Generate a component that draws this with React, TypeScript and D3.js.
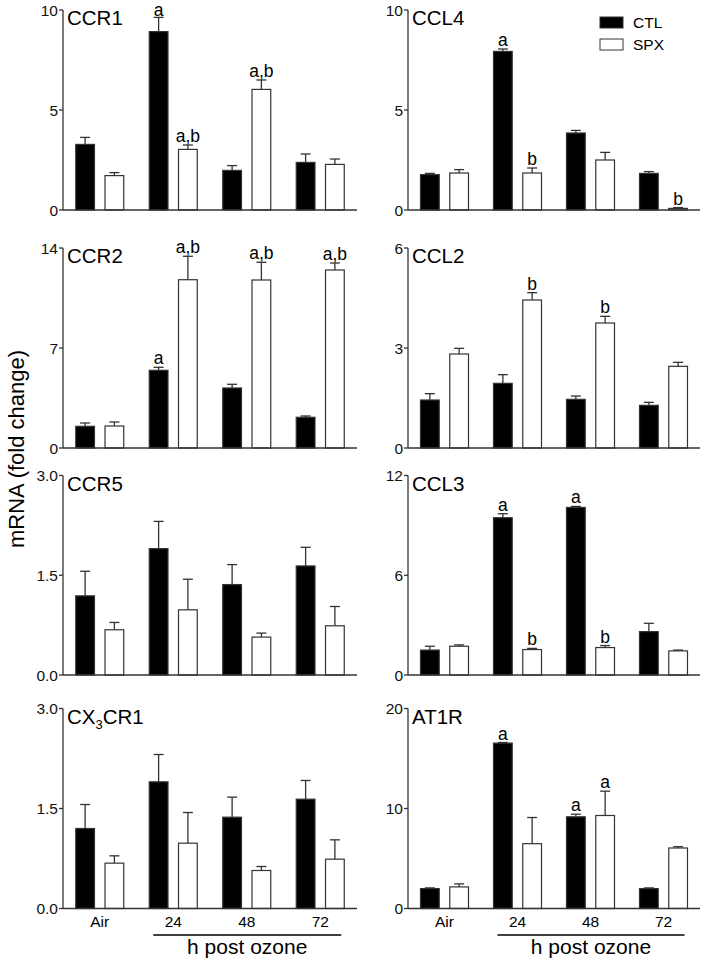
import React from "react";
import * as d3 from "d3";

// ---------- DATA ----------
const groups = ["Air", "24", "48", "72"];
const series = ["CTL", "SPX"];

const ccr1CTL = [3.28, 8.92, 1.98, 2.38];
const ccr1CTLErr = [0.35, 0.71, 0.24, 0.42];
const ccr1SPX = [1.72, 3.03, 6.03, 2.28];
const ccr1SPXErr = [0.15, 0.22, 0.47, 0.27];
const ccr1CTLSig = ["", "a", "", ""];
const ccr1SPXSig = ["", "a,b", "a,b", ""];

const ccl4CTL = [1.77, 7.93, 3.85, 1.83];
const ccl4CTLErr = [0.06, 0.12, 0.13, 0.09];
const ccl4SPX = [1.85, 1.85, 2.5, 0.08];
const ccl4SPXErr = [0.17, 0.25, 0.38, 0.04];
const ccl4CTLSig = ["", "a", "", ""];
const ccl4SPXSig = ["", "b", "", "b"];

const ccr2CTL = [1.52, 5.44, 4.2, 2.15];
const ccr2CTLErr = [0.23, 0.21, 0.26, 0.09];
const ccr2SPX = [1.54, 11.78, 11.76, 12.46];
const ccr2SPXErr = [0.28, 1.64, 1.24, 0.49];
const ccr2CTLSig = ["", "a", "", ""];
const ccr2SPXSig = ["", "a,b", "a,b", "a,b"];

const ccl2CTL = [1.44, 1.94, 1.46, 1.28];
const ccl2CTLErr = [0.19, 0.26, 0.1, 0.09];
const ccl2SPX = [2.82, 4.44, 3.75, 2.45];
const ccl2SPXErr = [0.17, 0.22, 0.2, 0.12];
const ccl2CTLSig = ["", "", "", ""];
const ccl2SPXSig = ["", "b", "b", ""];

const ccr5CTL = [1.19, 1.9, 1.36, 1.64];
const ccr5CTLErr = [0.37, 0.41, 0.3, 0.28];
const ccr5SPX = [0.68, 0.98, 0.57, 0.74];
const ccr5SPXErr = [0.11, 0.46, 0.06, 0.29];
const ccr5CTLSig = ["", "", "", ""];
const ccr5SPXSig = ["", "", "", ""];

const ccl3CTL = [1.5, 9.46, 10.08, 2.61];
const ccl3CTLErr = [0.23, 0.24, 0.06, 0.5];
const ccl3SPX = [1.73, 1.53, 1.65, 1.45];
const ccl3SPXErr = [0.08, 0.07, 0.12, 0.05];
const ccl3CTLSig = ["", "a", "a", ""];
const ccl3SPXSig = ["", "b", "b", ""];

const cx3cr1CTL = [1.2, 1.9, 1.37, 1.64];
const cx3cr1CTLErr = [0.36, 0.41, 0.3, 0.28];
const cx3cr1SPX = [0.68, 0.98, 0.57, 0.74];
const cx3cr1SPXErr = [0.11, 0.46, 0.06, 0.29];
const cx3cr1CTLSig = ["", "", "", ""];
const cx3cr1SPXSig = ["", "", "", ""];

const at1rCTL = [1.99, 16.54, 9.17, 1.99];
const at1rCTLErr = [0.07, 0.06, 0.26, 0.07];
const at1rSPX = [2.16, 6.48, 9.3, 6.05];
const at1rSPXErr = [0.3, 2.62, 2.43, 0.13];
const at1rCTLSig = ["", "a", "a", ""];
const at1rSPXSig = ["", "", "a", ""];

const ticksCCR1 = [0, 5, 10];
const ticksCCL4 = [0, 5, 10];
const ticksCCR2 = [0, 7, 14];
const ticksCCL2 = [0, 3, 6];
const ticksCCR5 = [0, 1.5, 3];
const ticksCCL3 = [0, 6, 12];
const ticksCX3CR1 = [0, 1.5, 3];
const ticksAT1R = [0, 10, 20];

// ---------- LAYOUT ----------
const FONT = "'Liberation Sans', Arial, Helvetica, sans-serif";
const STROKE = "#333";
const colX = [
  { x0: 63, x1: 357 },
  { x0: 408, x1: 700 },
];
const rowY = [
  { top: 10, bottom: 210 },
  { top: 248, bottom: 448 },
  { top: 475.5, bottom: 675 },
  { top: 708.5, bottom: 908.5 },
];

const panels = [
  { title: "CCR1", col: 0, row: 0, ticks: ticksCCR1, fmt: "d", ctl: ccr1CTL, ctlE: ccr1CTLErr, spx: ccr1SPX, spxE: ccr1SPXErr, ctlS: ccr1CTLSig, spxS: ccr1SPXSig },
  { title: "CCL4", col: 1, row: 0, ticks: ticksCCL4, fmt: "d", ctl: ccl4CTL, ctlE: ccl4CTLErr, spx: ccl4SPX, spxE: ccl4SPXErr, ctlS: ccl4CTLSig, spxS: ccl4SPXSig },
  { title: "CCR2", col: 0, row: 1, ticks: ticksCCR2, fmt: "d", ctl: ccr2CTL, ctlE: ccr2CTLErr, spx: ccr2SPX, spxE: ccr2SPXErr, ctlS: ccr2CTLSig, spxS: ccr2SPXSig },
  { title: "CCL2", col: 1, row: 1, ticks: ticksCCL2, fmt: "d", ctl: ccl2CTL, ctlE: ccl2CTLErr, spx: ccl2SPX, spxE: ccl2SPXErr, ctlS: ccl2CTLSig, spxS: ccl2SPXSig },
  { title: "CCR5", col: 0, row: 2, ticks: ticksCCR5, fmt: ".1f", ctl: ccr5CTL, ctlE: ccr5CTLErr, spx: ccr5SPX, spxE: ccr5SPXErr, ctlS: ccr5CTLSig, spxS: ccr5SPXSig },
  { title: "CCL3", col: 1, row: 2, ticks: ticksCCL3, fmt: "d", ctl: ccl3CTL, ctlE: ccl3CTLErr, spx: ccl3SPX, spxE: ccl3SPXErr, ctlS: ccl3CTLSig, spxS: ccl3SPXSig },
  { title: "CX3CR1", col: 0, row: 3, ticks: ticksCX3CR1, fmt: ".1f", ctl: cx3cr1CTL, ctlE: cx3cr1CTLErr, spx: cx3cr1SPX, spxE: cx3cr1SPXErr, ctlS: cx3cr1CTLSig, spxS: cx3cr1SPXSig },
  { title: "AT1R", col: 1, row: 3, ticks: ticksAT1R, fmt: "d", ctl: at1rCTL, ctlE: at1rCTLErr, spx: at1rSPX, spxE: at1rSPXErr, ctlS: at1rCTLSig, spxS: at1rSPXSig },
];

function Title({ t, x, y }: { t: string; x: number; y: number }) {
  if (t === "CX3CR1") {
    return (
      <text x={x} y={y} fontSize={20.5} fontFamily={FONT} fill="#000">
        <tspan>CX</tspan>
        <tspan fontSize={13} dy={5}>3</tspan>
        <tspan dy={-5}>CR1</tspan>
      </text>
    );
  }
  return (
    <text x={x} y={y} fontSize={20.5} fontFamily={FONT} fill="#000">
      {t}
    </text>
  );
}

function Panel({ p }: { p: (typeof panels)[number] }) {
  const { x0, x1 } = colX[p.col];
  const { top, bottom } = rowY[p.row];
  const yMax = p.ticks[p.ticks.length - 1];
  const y = d3.scaleLinear().domain([0, yMax]).range([bottom, top]);
  const x = d3.scaleBand<string>().domain(groups).range([x0, x1]).paddingInner(0).paddingOuter(0);
  const sub = d3.scaleBand<string>().domain(series).range([-24, 24]).paddingInner(0.36);
  const fmt = d3.format(p.fmt);
  const isBottom = p.row === 3;

  const bars: JSX.Element[] = [];
  groups.forEach((g, i) => {
    const c = (x(g) as number) + x.bandwidth() / 2;
    const sets = [
      { s: "CTL", v: p.ctl[i], e: p.ctlE[i], sig: p.ctlS[i], fill: "#000" },
      { s: "SPX", v: p.spx[i], e: p.spxE[i], sig: p.spxS[i], fill: "#fff" },
    ];
    sets.forEach((d) => {
      const bx = c + (sub(d.s) as number);
      const bw = sub.bandwidth();
      const mid = bx + bw / 2;
      const yTop = y(d.v);
      const yErr = y(d.v + d.e);
      bars.push(
        <g key={g + d.s}>
          <line x1={mid} x2={mid} y1={yTop} y2={yErr} stroke={STROKE} strokeWidth={1.3} />
          <line x1={mid - 5} x2={mid + 5} y1={yErr} y2={yErr} stroke={STROKE} strokeWidth={1.3} />
          <rect x={bx} y={yTop} width={bw} height={bottom - yTop} fill={d.fill} stroke={STROKE} strokeWidth={1.2} />
          {d.sig && (
            <text x={mid} y={Math.max(yErr - 3, 16)} textAnchor="middle" fontSize={17.5} fontFamily={FONT} fill="#000">
              {d.sig}
            </text>
          )}
        </g>
      );
    });
  });

  const c24 = (x("24") as number) + x.bandwidth() / 2;
  const c72 = (x("72") as number) + x.bandwidth() / 2;

  return (
    <g>
      {bars}
      <line x1={x0} x2={x0} y1={top} y2={bottom} stroke={STROKE} strokeWidth={1.3} />
      <line x1={x0} x2={x1} y1={bottom} y2={bottom} stroke={STROKE} strokeWidth={1.3} />
      {p.ticks.map((t) => (
        <g key={t}>
          <line x1={x0 - 4} x2={x0} y1={y(t)} y2={y(t)} stroke={STROKE} strokeWidth={1.3} />
          <text x={x0 - 5} y={y(t) + 5.5} textAnchor="end" fontSize={15.5} fontFamily={FONT} fill="#111">
            {fmt(t)}
          </text>
        </g>
      ))}
      <Title t={p.title} x={x0 + 4} y={top + 15} />
      {isBottom && (
        <g>
          {groups.map((g) => (
            <text key={g} x={(x(g) as number) + x.bandwidth() / 2} y={bottom + 18.5} textAnchor="middle" fontSize={15.5} fontFamily={FONT} fill="#000">
              {g}
            </text>
          ))}
          <line x1={c24 - 20} x2={c72 + 21} y1={935} y2={935} stroke="#000" strokeWidth={1.5} />
          <text x={(c24 - 20 + c72 + 21) / 2} y={954} textAnchor="middle" fontSize={21} fontFamily={FONT} fill="#000">
            h post ozone
          </text>
        </g>
      )}
    </g>
  );
}

export default function App() {
  return (
    <svg
      width={705}
      height={963}
      viewBox="0 0 705 963"
      style={{ position: "absolute", left: 0, top: 0, background: "#fff" }}
    >
      <rect x={0} y={0} width={705} height={963} fill="#fff" />
      {panels.map((p) => (
        <Panel key={p.title} p={p} />
      ))}
      <text
        transform="translate(24,449) rotate(-90)"
        textAnchor="middle"
        fontSize={22}
        fontFamily={FONT}
        fill="#000"
      >
        mRNA (fold change)
      </text>
      {/* legend */}
      <rect x={600} y={17} width={23} height={11} fill="#000" stroke={STROKE} strokeWidth={1} />
      <text x={633} y={28} fontSize={15.5} fontFamily={FONT} fill="#000">CTL</text>
      <rect x={600} y={39} width={23} height={11} fill="#fff" stroke={STROKE} strokeWidth={1} />
      <text x={633} y={50} fontSize={15.5} fontFamily={FONT} fill="#000">SPX</text>
    </svg>
  );
}
